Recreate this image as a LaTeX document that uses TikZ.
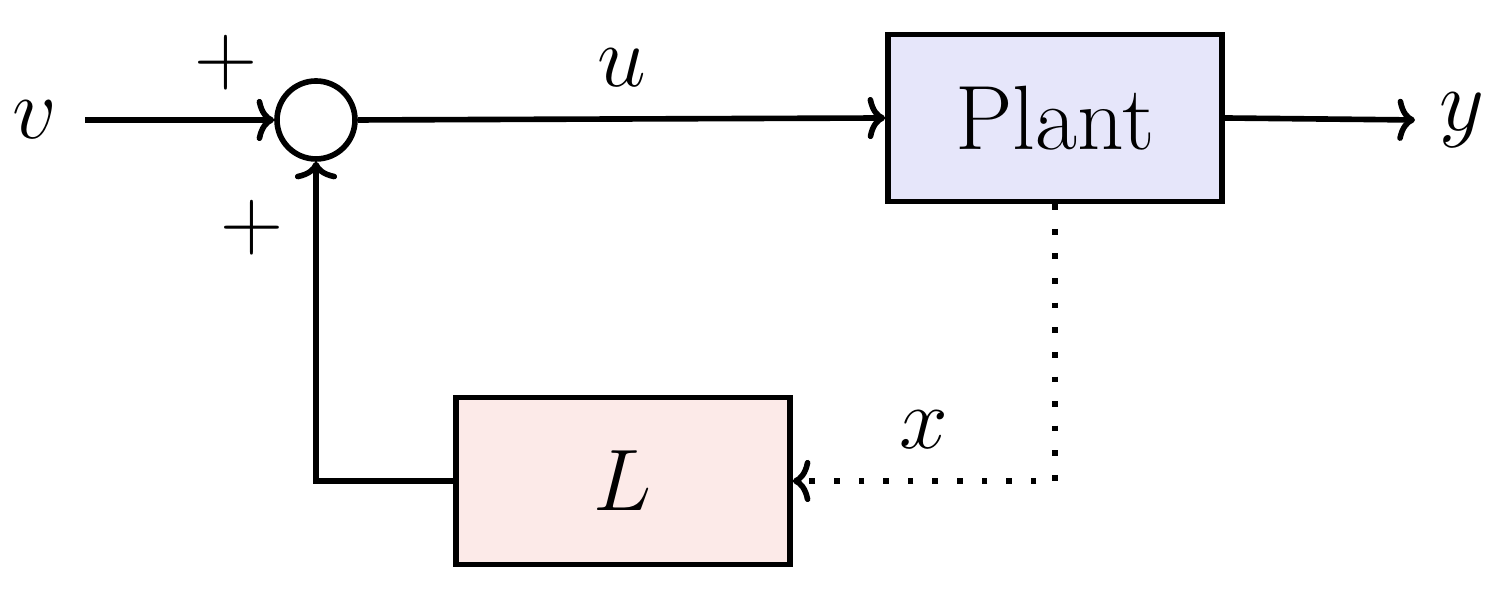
\documentclass[tikz,border=0pt]{standalone}
\usetikzlibrary{arrows.meta}
\definecolor{plantfill}{RGB}{230,230,250}
\definecolor{lfill}{RGB}{252,234,232}
\begin{document}
\begin{tikzpicture}[x=1cm,y=1cm,line width=1.6pt,
  every node/.style={font=\fontsize{26}{30}\selectfont},
  blockbox/.style={draw,minimum width=3.34cm,minimum height=1.67cm,inner sep=0pt},
  sumnode/.style={draw,circle,minimum size=0.78cm,inner sep=0pt},
  sig/.style={-{To[length=5pt,width=12pt]}},
  dotline/.style={dash pattern=on 1.6pt off 5.4pt}]
\useasboundingbox (0,0) rectangle (15.06,5.90);
\node[sumnode] (sum) at (3.16,4.70) {};
\node[blockbox,fill=plantfill] (plant) at (10.55,4.72) {Plant};
\node[blockbox,fill=lfill] (L) at (6.23,1.09) {$L$};
\node (v) at (0.35,4.70) {$v$};
\node (y) at (14.62,4.70) {$y$};
\coordinate (vs) at (0.85,4.70);
\coordinate (ye) at (14.15,4.70);
\coordinate (c1) at (10.55,1.09);
\coordinate (c2) at (3.16,1.09);
\draw[sig] (vs) -- (sum.west);
\draw[sig] (sum.east) -- node[above=5pt] {$u$} (plant.west);
\draw[sig] (plant.east) -- (ye);
\draw[sig,dotline] (plant.south) -- (c1) -- node[above=5pt,pos=0.5] {$x$} (L.east);
\draw[sig] (L.west) -- (c2) -- (sum.south);
\node (p1) at (2.26,5.27) {$+$};
\node (p2) at (2.52,3.62) {$+$};
\end{tikzpicture}
\end{document}
